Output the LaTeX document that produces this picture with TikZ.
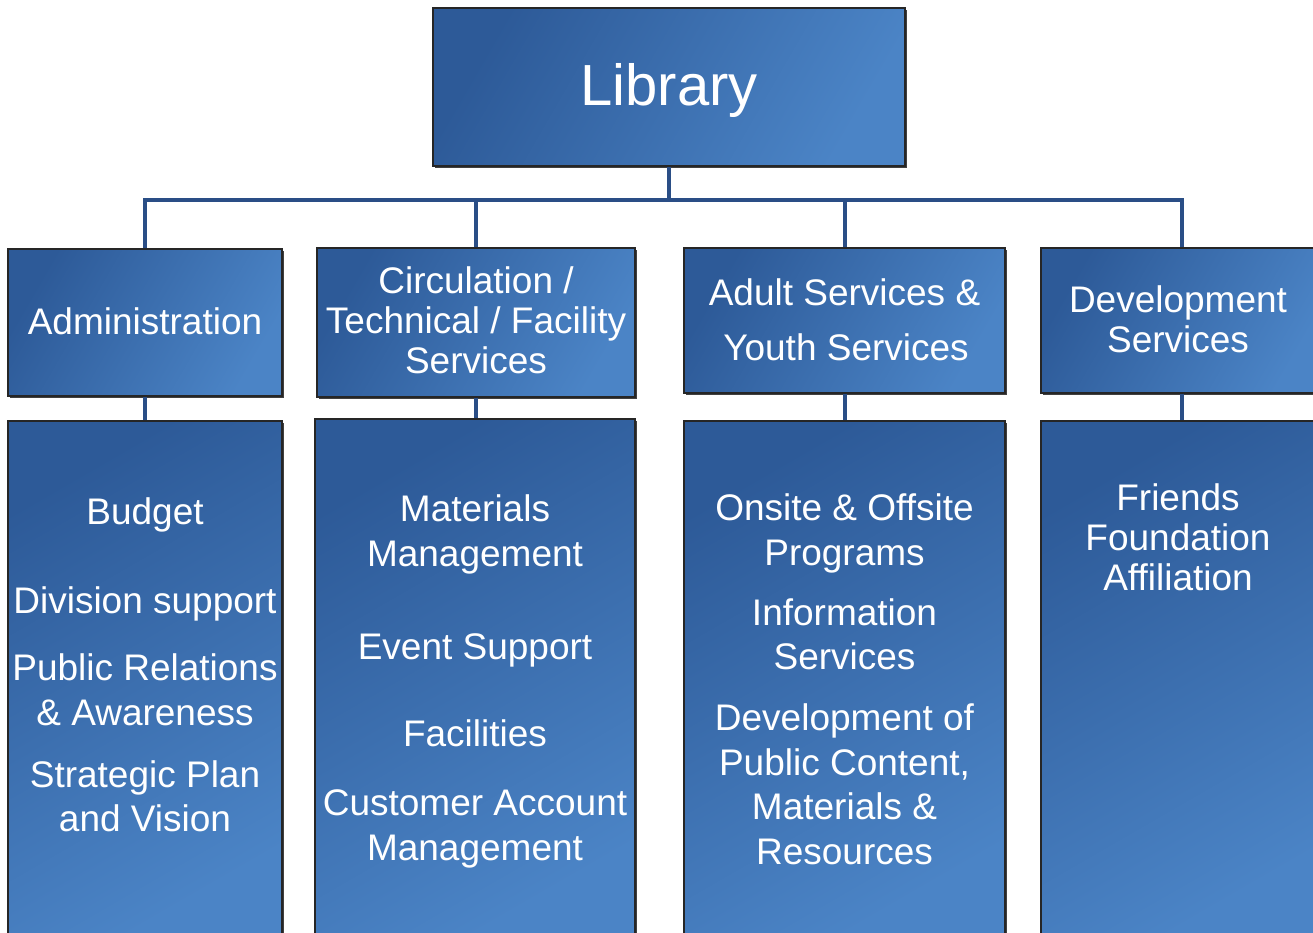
\documentclass[tikz,border=0pt]{standalone}
\usepackage{fontspec}
\setmainfont{Liberation Sans}
\usetikzlibrary{shadows}
\definecolor{bdark}{HTML}{2D5A98}
\definecolor{blight}{HTML}{4B84C6}
\definecolor{wire}{HTML}{2A4E86}
\tikzset{
  orgbox/.style={rectangle, inner sep=0pt, draw=black!85, line width=1.2pt,
    left color=bdark, right color=blight, shading angle=60,
    drop shadow={shadow xshift=1.5pt, shadow yshift=-1.5pt, fill=black, opacity=0.75}},
  tallbox/.style={orgbox, shading angle=30},
  lbl/.style={text=white, anchor=base, inner sep=0pt, font=\fontsize{37}{45}\selectfont},
  biglbl/.style={text=white, anchor=base, inner sep=0pt, font=\fontsize{58}{70}\selectfont},
  wirestyle/.style={draw=wire, line width=4pt}
}
\begin{document}
\begin{tikzpicture}[x=1pt,y=-1pt]
\useasboundingbox (0,0) rectangle (1313,932);
\coordinate (bus) at (0,200);
\node[orgbox, minimum width=472pt, minimum height=158pt] (lib) at (669,87) {};
\node[orgbox, minimum width=274pt, minimum height=147pt] (adm) at (145,322.5) {};
\node[orgbox, minimum width=318pt, minimum height=149pt] (circ) at (476,322.5) {};
\node[orgbox, minimum width=321pt, minimum height=145pt] (adult) at (844.5,320.5) {};
\node[orgbox, minimum width=282pt, minimum height=145pt] (dev) at (1182,320.5) {};
\node[tallbox, minimum width=274pt, minimum height=518pt] (admL) at (145,680) {};
\node[tallbox, minimum width=320pt, minimum height=520pt] (circL) at (475,679) {};
\node[tallbox, minimum width=321pt, minimum height=518pt] (adultL) at (844.5,680) {};
\node[tallbox, minimum width=282pt, minimum height=518pt] (devL) at (1182,680) {};
% wires
\draw[wirestyle] (lib.south) -- (lib.south |- bus);
\draw[wirestyle] (adm.north) -- (adm.north |- bus) -- (dev.north |- bus) -- (dev.north);
\draw[wirestyle] (circ.north) -- (circ.north |- bus);
\draw[wirestyle] (adult.north) -- (adult.north |- bus);
\draw[wirestyle] (adm.south) -- (admL.north);
\draw[wirestyle] (circ.south) -- (circ.south |- circL.north);
\draw[wirestyle] (adult.south) -- (adultL.north);
\draw[wirestyle] (dev.south) -- (devL.north);
% texts
\node[biglbl] (tlib) at (669,105) {Library};
\node[lbl] (ta1) at (145,334) {Administration};
\node[lbl] (tc1) at (476,293) {Circulation /};
\node[lbl] (tc2) at (476,333) {Technical / Facility};
\node[lbl] (tc3) at (476,373) {Services};
\node[lbl] (tu1) at (844.5,305) {Adult Services \&};
\node[lbl] (tu2) at (846,360) {Youth Services};
\node[lbl] (td1) at (1178,312) {Development};
\node[lbl] (td2) at (1178,352) {Services};
% admin lower
\node[lbl] (al1) at (145,524) {Budget};
\node[lbl] (al2) at (145,613) {Division support};
\node[lbl] (al3) at (145,680) {Public Relations};
\node[lbl] (al4) at (145,725) {\& Awareness};
\node[lbl] (al5) at (145,787) {Strategic Plan};
\node[lbl] (al6) at (145,831) {and Vision};
% circ lower
\node[lbl] (cl1) at (475,521) {Materials};
\node[lbl] (cl2) at (475,566) {Management};
\node[lbl] (cl3) at (475,659) {Event Support};
\node[lbl] (cl4) at (475,746) {Facilities};
\node[lbl] (cl5) at (475,815) {Customer Account};
\node[lbl] (cl6) at (475,860) {Management};
% adult lower
\node[lbl] (ul1) at (844.5,520) {Onsite \& Offsite};
\node[lbl] (ul2) at (844.5,565) {Programs};
\node[lbl] (ul3) at (844.5,625) {Information};
\node[lbl] (ul4) at (844.5,669) {Services};
\node[lbl] (ul5) at (844.5,730) {Development of};
\node[lbl] (ul6) at (844.5,775) {Public Content,};
\node[lbl] (ul7) at (844.5,819) {Materials \&};
\node[lbl] (ul8) at (844.5,864) {Resources};
% dev lower
\node[lbl] (dl1) at (1178,510) {Friends};
\node[lbl] (dl2) at (1178,550) {Foundation};
\node[lbl] (dl3) at (1178,590) {Affiliation};
\end{tikzpicture}
\end{document}
